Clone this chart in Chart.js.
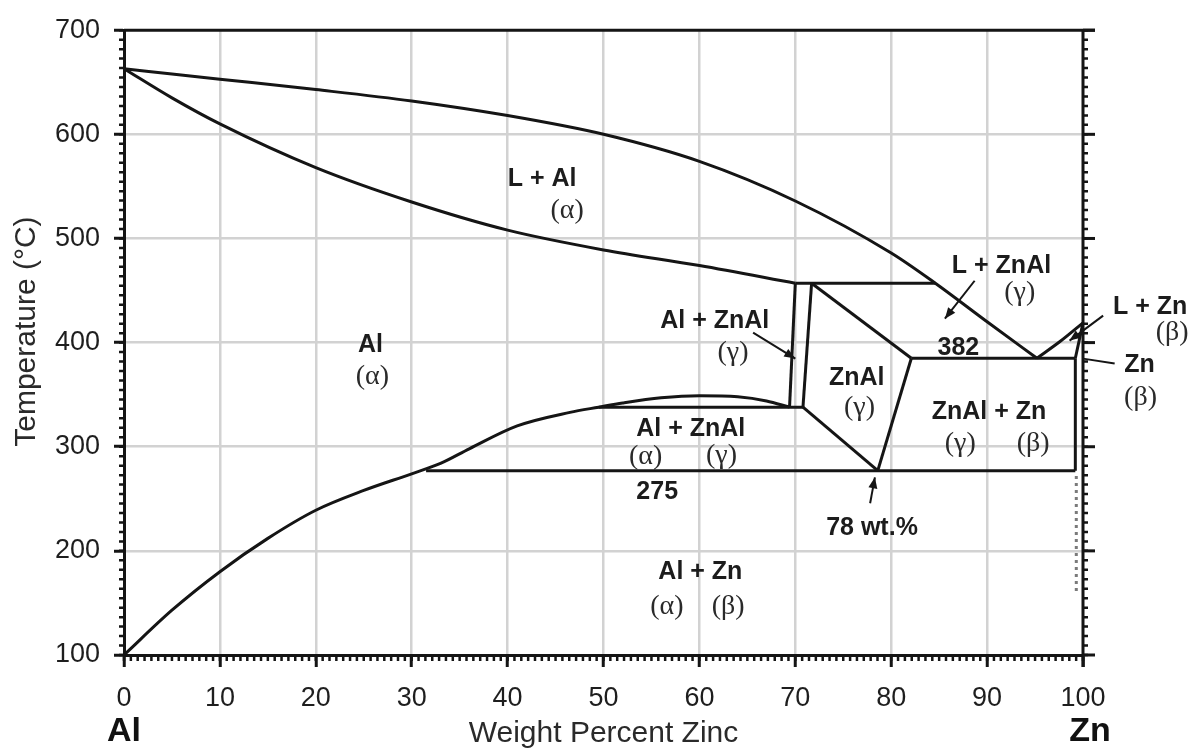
<!DOCTYPE html>
<html>
<head>
<meta charset="utf-8">
<title>Al-Zn phase diagram</title>
<script src="https://cdn.jsdelivr.net/npm/chart.js@4/dist/chart.umd.min.js"></script>
<style>
  html, body { margin: 0; padding: 0; background: #fff; }
</style>
</head>
<body>
<canvas id="phaseChart" width="1192" height="749"></canvas>
<script>
// Al-Zn phase diagram, temperature vs weight percent zinc

// Axis ticks
const xTickValues = [0, 10, 20, 30, 40, 50, 60, 70, 80, 90, 100];
const yTickValues = [100, 200, 300, 400, 500, 600, 700];

// Phase boundaries (wt.% Zn, degC)
const liquidusWt = [0, 5, 10, 20, 30, 40, 50, 60, 70, 80, 84.6, 90, 95.2];
const liquidusT = [663, 658, 653, 643, 632, 618, 600, 574, 536, 486, 457, 420, 385];

const solidusWt = [0, 5, 10, 20, 30, 40, 50, 60, 70];
const solidusT = [663, 635, 610, 568, 535, 508, 489, 474, 457];

const peritecticWt = [70, 84.6];
const peritecticT = [457, 457];

const alSolvusWt = [70.0, 69.4];
const alSolvusT = [457, 338];

const znalLeftWt = [71.7, 70.8];
const znalLeftT = [457, 338];

const monotectoidWt = [49.5, 70.8];
const monotectoidT = [338, 338];

const solvusWt = [0, 5, 10, 15, 20, 25, 30, 33, 36, 41, 46.5, 49.5, 52, 56, 60, 64, 67, 69.4];
const solvusT = [100, 143, 180, 212, 239, 258, 274, 284, 298, 320, 333, 338, 342, 347, 349, 348, 344, 338];

const znalLowWt = [70.8, 78.6];
const znalLowT = [338, 277];

const znalTopWt = [71.7, 82.1];
const znalTopT = [457, 385];

const znalRightWt = [82.1, 78.6];
const znalRightT = [385, 277];

const eutectoidWt = [31.5, 99.2];
const eutectoidT = [277, 277];

const eutecticWt = [82.1, 99.2];
const eutecticT = [385, 385];

const znSolvusWt = [99.2, 99.2];
const znSolvusT = [385, 277];

const znDottedWt = [99.3, 99.3];
const znDottedT = [272, 158];

const znLiquidusWt = [95.2, 97.6, 100];
const znLiquidusT = [385, 401, 419];

const znSolidusWt = [99.2, 100];
const znSolidusT = [385, 419];

// Region labels (bold sans) and phase symbols (serif)
const labelText = ['L + Al', 'Al', 'Al + ZnAl', 'ZnAl', 'Al + ZnAl', '275', '382',
  'L + ZnAl', 'L + Zn', 'Zn', 'ZnAl + Zn', '78 wt.%', 'Al + Zn'];
const labelWt = [43.6, 25.7, 61.6, 76.4, 59.1, 55.6, 87.0, 91.5, 107.0, 105.9, 90.2, 78.0, 60.1];
const labelT = [557, 398, 421, 366, 317, 256, 395, 473, 434.5, 378, 333, 222, 179.5];

const symbolText = ['(α)', '(α)', '(γ)', '(γ)', '(α)', '(γ)', '(γ)', '(β)', '(β)', '(γ)', '(β)', '(α)', '(β)'];
const symbolWt = [46.2, 25.9, 63.5, 76.7, 54.4, 62.3, 93.4, 109.3, 106.0, 87.2, 94.8, 56.6, 63.0];
const symbolT = [526.5, 367, 390, 337.5, 290.5, 291.5, 448, 409.5, 347, 303, 303, 146, 146];

// Pointer arrows
const arrowFromWt = [88.7, 65.6, 102.1, 77.8, 103.3];
const arrowFromT = [459.4, 409.6, 425.9, 245.7, 379.9];
const arrowToWt = [85.6, 70.0, 98.6, 78.3, 100.0];
const arrowToT = [423, 384.7, 401.9, 270.6, 384.6];
const arrowHead = [true, true, true, true, false];

const INK = '#151515';
const FONT = '"Liberation Sans", Arial, sans-serif';

function toPoints(xs, ys) {
    return xs.map((x, i) => ({ x, y: ys[i] }));
}

function boundary(xs, ys, smooth) {
    return {
        data: toPoints(xs, ys),
        showLine: true,
        pointRadius: 0,
        borderColor: INK,
        borderWidth: 3,
        cubicInterpolationMode: smooth ? 'monotone' : 'default',
        tension: 0,
        fill: false
    };
}

const datasets = [
    boundary(liquidusWt, liquidusT, true),
    boundary(solidusWt, solidusT, true),
    boundary(peritecticWt, peritecticT),
    boundary(alSolvusWt, alSolvusT),
    boundary(znalLeftWt, znalLeftT),
    boundary(monotectoidWt, monotectoidT),
    boundary(solvusWt, solvusT, true),
    boundary(znalLowWt, znalLowT),
    boundary(znalTopWt, znalTopT),
    boundary(znalRightWt, znalRightT),
    boundary(eutectoidWt, eutectoidT),
    boundary(eutecticWt, eutecticT),
    boundary(znSolvusWt, znSolvusT),
    boundary(znLiquidusWt, znLiquidusT, true),
    boundary(znSolidusWt, znSolidusT),
    Object.assign(boundary(znDottedWt, znDottedT), {
        borderColor: '#7a7a7a', borderWidth: 3, borderDash: [3, 4]
    })
];

// Helper: draw a straight arrow with optional filled head
function drawArrow(ctx, x1, y1, x2, y2, head) {
    ctx.beginPath();
    ctx.moveTo(x1, y1);
    ctx.lineTo(x2, y2);
    ctx.stroke();
    if (!head) return;
    const ang = Math.atan2(y2 - y1, x2 - x1);
    const len = 11, half = 4.5;
    ctx.beginPath();
    ctx.moveTo(x2, y2);
    ctx.lineTo(x2 - len * Math.cos(ang) + half * Math.sin(ang), y2 - len * Math.sin(ang) - half * Math.cos(ang));
    ctx.lineTo(x2 - len * Math.cos(ang) - half * Math.sin(ang), y2 - len * Math.sin(ang) + half * Math.cos(ang));
    ctx.closePath();
    ctx.fill();
}

// Frame, minor ticks, labels and arrows drawn on top of the chart
const overlayPlugin = {
    id: 'phaseOverlay',
    afterDraw(chart) {
        const { ctx, chartArea: a, scales: { x, y } } = chart;
        ctx.save();
        ctx.strokeStyle = INK;
        ctx.fillStyle = INK;

        // top border and right (Zn) axis
        ctx.lineWidth = 3;
        ctx.beginPath();
        ctx.moveTo(a.left, a.top);
        ctx.lineTo(a.right + 12, a.top);
        ctx.moveTo(a.right, a.top);
        ctx.lineTo(a.right, a.bottom + 12);
        ctx.stroke();

        // right axis major ticks
        yTickValues.forEach(v => {
            const py = y.getPixelForValue(v);
            ctx.beginPath();
            ctx.moveTo(a.right, py);
            ctx.lineTo(a.right + 12, py);
            ctx.stroke();
        });

        // minor ticks
        ctx.lineWidth = 2.5;
        const yStep = 100 / 11;
        for (let v = 100; v <= 700; v += yStep) {
            const py = y.getPixelForValue(v);
            ctx.beginPath();
            ctx.moveTo(a.left - 5, py);
            ctx.lineTo(a.left, py);
            ctx.moveTo(a.right, py);
            ctx.lineTo(a.right + 5, py);
            ctx.stroke();
        }
        const xStep = 10 / 14;
        for (let v = 0; v <= 100.01; v += xStep) {
            const px = x.getPixelForValue(v);
            ctx.beginPath();
            ctx.moveTo(px, a.bottom);
            ctx.lineTo(px, a.bottom + 6);
            ctx.stroke();
        }

        // pointer arrows
        ctx.lineWidth = 2;
        arrowFromWt.forEach((w, i) => {
            drawArrow(ctx,
                x.getPixelForValue(w), y.getPixelForValue(arrowFromT[i]),
                x.getPixelForValue(arrowToWt[i]), y.getPixelForValue(arrowToT[i]),
                arrowHead[i]);
        });

        // region labels
        ctx.textAlign = 'center';
        ctx.textBaseline = 'middle';
        ctx.fillStyle = '#1c1c1c';
        ctx.font = 'bold 25px ' + FONT;
        labelText.forEach((t, i) => {
            ctx.fillText(t, x.getPixelForValue(labelWt[i]), y.getPixelForValue(labelT[i]));
        });
        ctx.fillStyle = '#2a2a2a';
        ctx.font = '28px "Liberation Serif", "Times New Roman", serif';
        symbolText.forEach((t, i) => {
            ctx.fillText(t, x.getPixelForValue(symbolWt[i]), y.getPixelForValue(symbolT[i]));
        });

        // element names under the axis ends
        ctx.fillStyle = '#111';
        ctx.font = 'bold 34px ' + FONT;
        ctx.fillText('Al', x.getPixelForValue(0), a.bottom + 77);
        ctx.fillText('Zn', x.getPixelForValue(100) + 7, a.bottom + 77);

        // y axis title
        ctx.fillStyle = '#2a2a2a';
        ctx.font = '30px ' + FONT;
        ctx.translate(27, (a.top + a.bottom) / 2 - 11);
        ctx.rotate(-Math.PI / 2);
        ctx.fillText('Temperature (°C)', 0, 0);
        ctx.restore();
    }
};

new Chart(document.getElementById('phaseChart'), {
    type: 'scatter',
    data: { datasets },
    options: {
        responsive: false,
        animation: false,
        events: [],
        layout: { padding: { top: 29, right: 109, left: 0, bottom: 0 } },
        plugins: {
            legend: { display: false },
            tooltip: { enabled: false }
        },
        scales: {
            x: {
                type: 'linear',
                min: 0,
                max: 100,
                afterBuildTicks: (s) => { s.ticks = xTickValues.map(v => ({ value: v })); },
                afterFit: (s) => { s.height = 94; },
                grid: {
                    color: (c) => (c.tick && (c.tick.value === 0 || c.tick.value === 100)) ? 'rgba(0,0,0,0)' : '#d2d2d2',
                    lineWidth: 2.5,
                    tickLength: 12,
                    tickColor: INK,
                    tickWidth: 3
                },
                border: { display: true, color: INK, width: 3 },
                ticks: {
                    color: '#1e1e1e',
                    padding: 15,
                    maxRotation: 0,
                    font: { family: FONT, size: 27 }
                },
                title: {
                    display: true,
                    text: 'Weight Percent Zinc',
                    color: '#2a2a2a',
                    padding: { top: 0, bottom: 0 },
                    font: { family: FONT, size: 30, lineHeight: 1 }
                }
            },
            y: {
                type: 'linear',
                min: 100,
                max: 700,
                afterBuildTicks: (s) => { s.ticks = yTickValues.map(v => ({ value: v })); },
                afterFit: (s) => { s.width = 124; },
                grid: {
                    color: (c) => (c.tick && (c.tick.value === 100 || c.tick.value === 700)) ? 'rgba(0,0,0,0)' : '#d2d2d2',
                    lineWidth: 2.5,
                    tickLength: 10,
                    tickColor: INK,
                    tickWidth: 3
                },
                border: { display: true, color: INK, width: 3 },
                ticks: {
                    color: '#1e1e1e',
                    padding: 14,
                    font: { family: FONT, size: 27 }
                },
                title: { display: false }
            }
        }
    },
    plugins: [overlayPlugin]
});
</script>
</body>
</html>
